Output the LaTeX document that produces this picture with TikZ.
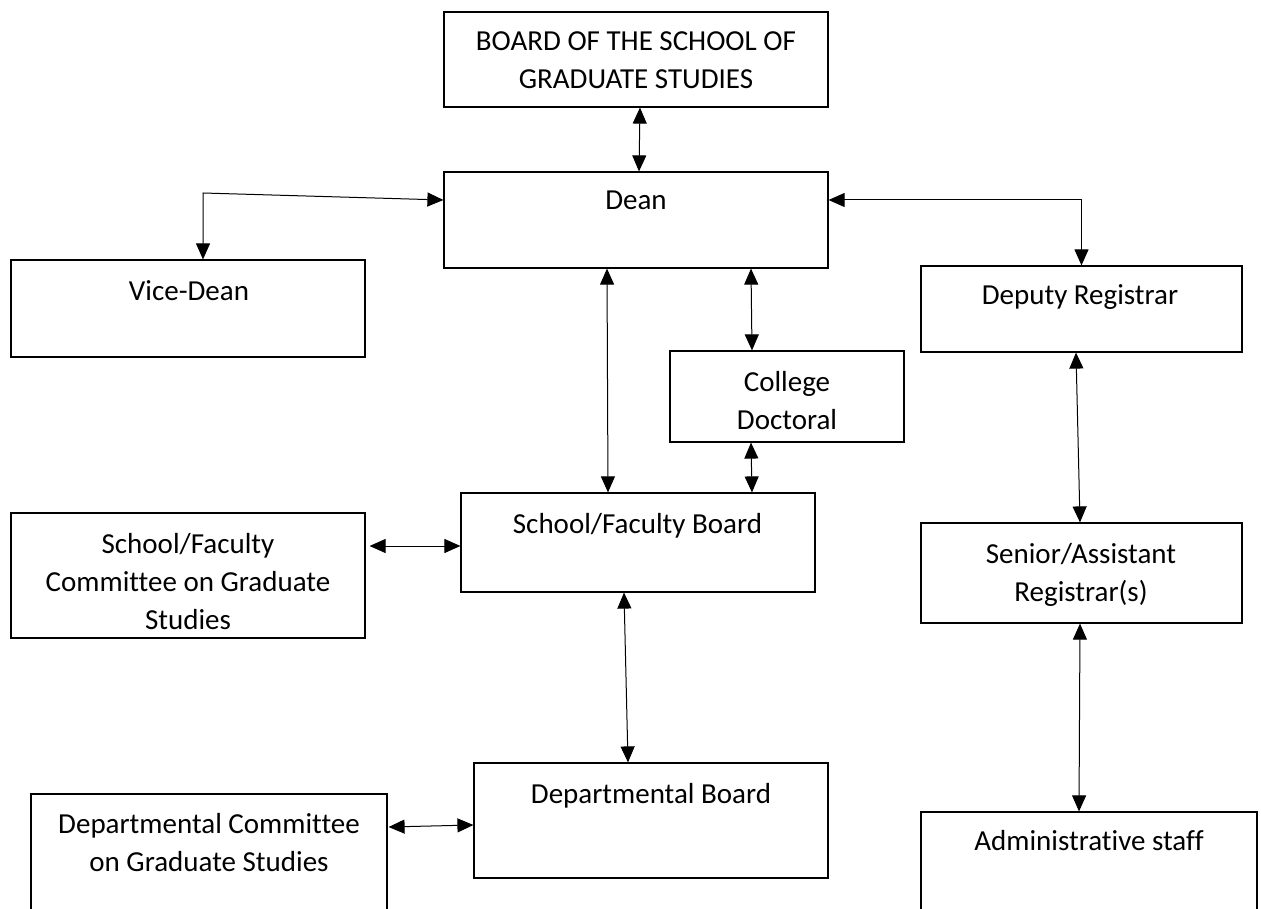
\documentclass[tikz,border=0pt]{standalone}
\usepackage{fontspec}
\setmainfont{Carlito}[Ligatures={NoCommon}]
\usetikzlibrary{arrows.meta}
\tikzset{
  box/.style={draw=black, line width=1.2pt, fill=white, inner sep=0pt},
  txt/.style={anchor=north, inner sep=0pt, align=center, font=\fontsize{29}{38}\selectfont},
  conn/.style={line width=1pt, {Triangle[length=16pt,width=14pt]}-{Triangle[length=16pt,width=14pt]}}
}
\begin{document}
\begin{tikzpicture}[x=1pt,y=-1pt]
\fill[white] (0,0) rectangle (1261,909);
\useasboundingbox (0,0) rectangle (1261,909);
\clip (0,0) rectangle (1261,909);
% boxes
\node[box, minimum width=384pt, minimum height=95pt]  (board) at (636,59.5) {};
\node[box, minimum width=384pt, minimum height=96pt]  (dean)  at (636,220) {};
\node[box, minimum width=354pt, minimum height=97pt]  (vice)  at (188,308.5) {};
\node[box, minimum width=321pt, minimum height=86pt]  (dep)   at (1081.5,309) {};
\node[box, minimum width=234pt, minimum height=91pt]  (coll)  at (787,396.5) {};
\node[box, minimum width=354pt, minimum height=99pt]  (sfb)   at (638,542.5) {};
\node[box, minimum width=354pt, minimum height=125pt] (sfc)   at (188,575.5) {};
\node[box, minimum width=321pt, minimum height=100pt] (sen)   at (1081.5,573) {};
\node[box, minimum width=354pt, minimum height=115pt] (db)    at (651,820.5) {};
\node[box, minimum width=356pt, minimum height=121pt] (dc)    at (209,854.5) {};
\node[box, minimum width=336pt, minimum height=103pt] (adm)   at (1089,863.5) {};
% texts
\node[txt] (boardT) at (636,23.4)   {\strut BOARD OF THE SCHOOL OF\\\strut GRADUATE STUDIES};
\node[txt] (deanT)  at (636,182.4)  {\strut Dean};
\node[txt] (viceT)  at (189,273.4)  {\strut Vice-Dean};
\node[txt] (depT)   at (1080,277.4) {\strut Deputy Registrar};
\node[txt] (collT)  at (787,364.4)  {\strut College\\\strut Doctoral};
\node[txt] (sfbT)   at (637.5,506.4) {\strut School/Faculty Board};
\node[txt] (sfcT)   at (188,526.4)  {\strut School/Faculty\\\strut Committee on Graduate\\\strut Studies};
\node[txt] (senT)   at (1081,536.4) {\strut Senior/Assistant\\\strut Registrar(s)};
\node[txt] (dbT)    at (651,776.4)  {\strut Departmental Board};
\node[txt] (dcT)    at (209,806.4)  {\strut Departmental Committee\\\strut on Graduate Studies};
\node[txt] (admT)   at (1089,823.4) {\strut Administrative staff};
% connectors
\coordinate (vc) at (203,193);
\draw[conn] ([xshift=4pt]board.south) -- ([xshift=3pt]dean.north);
\draw[conn] ([xshift=15pt]vice.north) -- (vc) -- ([yshift=20pt]dean.west);
\draw[conn] ([yshift=20pt]dean.east) -| (dep.north);
\draw[conn] ([xshift=-29pt]dean.south) -- ([xshift=-30pt]sfb.north);
\draw[conn] ([xshift=115pt]dean.south) -- ([xshift=-35pt]coll.north);
\draw[conn] ([xshift=-36pt]coll.south) -- ([xshift=114pt]sfb.north);
\draw[conn] ([xshift=4pt,yshift=29.5pt]sfc.east) -- ([yshift=-3.5pt]sfb.west);
\draw[conn] ([xshift=-14pt]sfb.south) -- ([xshift=-23pt]db.north);
\draw[conn] ([xshift=1pt,yshift=27.5pt]dc.east) -- ([yshift=-4.5pt]db.west);
\draw[conn] ([xshift=-5.5pt]dep.south) -- ([xshift=-1.5pt]sen.north);
\draw[conn] ([xshift=-1.5pt]sen.south) -- ([xshift=-10pt]adm.north);
\end{tikzpicture}
\end{document}
